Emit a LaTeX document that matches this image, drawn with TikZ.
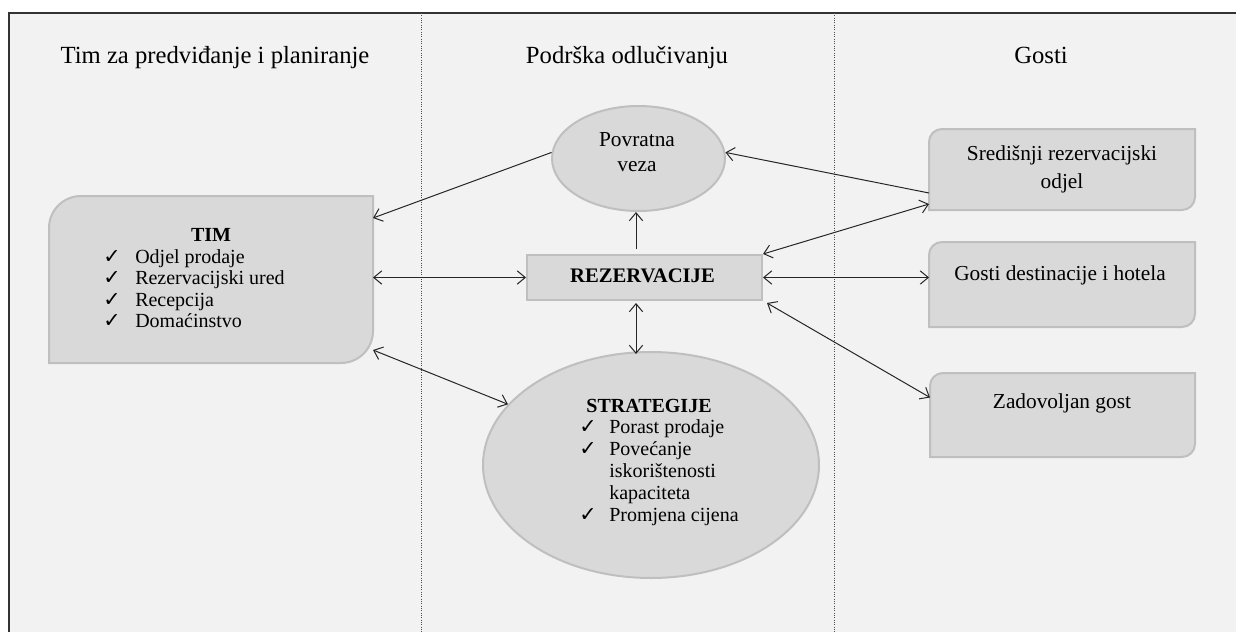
\documentclass[tikz,border=0pt]{standalone}
\usepackage{fontspec}
\setmainfont{Liberation Serif}
\newfontfamily\chkfont{DejaVu Sans}
\usetikzlibrary{arrows.meta,calc,shapes.geometric}
\definecolor{bgc}{HTML}{F2F2F2}
\definecolor{shfill}{HTML}{D9D9D9}
\definecolor{shdraw}{HTML}{BFBFBF}
\newcommand\chk[1]{\makebox[#1][l]{\chkfont\fontsize{15.5}{15.5}\selectfont ✓}}
% box with rounded top-left and bottom-right corners: x1 y1 x2 y2 r
\newcommand\cornerbox[5]{%
  \path[shp] ({#1+#5},#2) -- (#3,#2) -- (#3,{#4-#5})
    .. controls (#3,{#4-0.4477*#5}) and ({#3-0.4477*#5},#4) .. ({#3-#5},#4)
    -- (#1,#4) -- (#1,{#2+#5})
    .. controls (#1,{#2+0.4477*#5}) and ({#1+0.4477*#5},#2) .. ({#1+#5},#2) -- cycle;}
\begin{document}
\begin{tikzpicture}[x=0.75pt,y=-0.75pt,
  >={Straight Barb[length=6pt,width=10pt]},
  shp/.style={fill=shfill,draw=shdraw,line width=1.5pt},
  sizebox/.style 2 args={rectangle,draw=none,inner sep=0pt,outer sep=0pt,
    minimum width=#1*0.75pt,minimum height=#2*0.75pt},
  hdr/.style={inner sep=0pt,font=\fontsize{18.5}{22}\selectfont},
  txt/.style={inner sep=0pt,font=\fontsize{16}{19}\selectfont},
  itm/.style={inner sep=0pt,anchor=base west,font=\fontsize{15}{18}\selectfont},
  bld/.style={inner sep=0pt,anchor=base,font=\fontsize{15}{18}\selectfont\bfseries},
  arr/.style={draw=black!85,line width=0.75pt},
  sep/.style={draw=black!70,line width=0.75pt,densely dotted}]
\useasboundingbox (0,0) rectangle (1236,632);
\fill[white] (0,0) rectangle (1236,632);
\fill[bgc] (9,13) rectangle (1236,632);
\draw[black!80,line width=1.2pt] (9,632) -- (9,13) -- (1236,13);
\draw[sep] (421,13) -- (421,632);
\draw[sep] (834,13) -- (834,632);

% headers
\node[hdr,anchor=base] (h1) at (215,63) {Tim za predviđanje i planiranje};
\node[hdr,anchor=base] (h2) at (627,63) {Podrška odlučivanju};
\node[hdr,anchor=base] (h3) at (1041,63) {Gosti};

% shapes
\cornerbox{49}{196}{373}{363}{32}
\node[sizebox={324}{167}] (tim) at (211,279.5) {};
\cornerbox{929}{129}{1195}{210}{13}
\node[sizebox={266}{81}] (sred) at (1062,169.5) {};
\cornerbox{929}{242}{1195}{327}{13}
\node[sizebox={266}{85}] (gdh) at (1062,284.5) {};
\cornerbox{930}{373}{1195}{457}{13}
\node[sizebox={265}{84}] (zad) at (1062.5,415) {};
\node[shp,ellipse,inner sep=0pt,minimum width=173*0.75pt,minimum height=105*0.75pt] (pov) at (638.5,158.5) {};
\node[shp,rectangle,inner sep=0pt,minimum width=235*0.75pt,minimum height=45*0.75pt] (rez) at (644.5,277.5) {};
\node[shp,ellipse,inner sep=0pt,minimum width=336*0.75pt,minimum height=226*0.75pt] (strat) at (651,465) {};

% texts
\node[bld] (timt) at (211,241) {TIM};
\node[itm] (t1) at (103,263) {\chk{24pt}Odjel prodaje};
\node[itm] (t2) at (103,284.5) {\chk{24pt}Rezervacijski ured};
\node[itm] (t3) at (103,306) {\chk{24pt}Recepcija};
\node[itm] (t4) at (103,327.5) {\chk{24pt}Domaćinstvo};

\node[txt,anchor=base] (pv1) at (637,146) {Povratna};
\node[txt,anchor=base] (pv2) at (637,171) {veza};
\node[bld,font=\fontsize{15.5}{18}\selectfont\bfseries] (rezt) at (642.5,282) {REZERVACIJE};

\node[bld] (strt) at (649,412) {STRATEGIJE};
\node[itm] (s1) at (579,433) {\chk{22.5pt}Porast prodaje};
\node[itm] (s2) at (579,455) {\chk{22.5pt}Povećanje};
\node[itm] (s3) at (609,477.5) {iskorištenosti};
\node[itm] (s4) at (609,499.5) {kapaciteta};
\node[itm] (s5) at (579,521.5) {\chk{22.5pt}Promjena cijena};

\node[txt,anchor=base] (sr1) at (1062,160.7) {Središnji rezervacijski};
\node[txt,anchor=base] (sr2) at (1062,188) {odjel};
\node[txt,anchor=base] (gdt) at (1060,280) {Gosti destinacije i hotela};
\node[txt,anchor=base] (zdt) at (1062,408) {Zadovoljan gost};

% connectors
\coordinate (vx) at (636,0);
\draw[arr,->] (pov.176) -- ($(tim.east)+(0,-61.5)$);
\draw[arr,<->] (rez.west -| tim.east) -- (rez.west);
\draw[arr,<->] ($(tim.east)+(0,70.5)$) -- (strat.157.7);
\draw[arr,->] ($(rez.north -| vx)+(0,-5)$) -- (pov.south -| vx);
\draw[arr,<->] ($(rez.south -| vx)+(0,2)$) -- ($(strat.north -| vx)+(0,3)$);
\draw[arr,->] ($(sred.west)+(0,23.5)$) -- (pov.4);
\draw[arr,<->] (rez.north east) -- ($(sred.south west)+(0,-6)$);
\draw[arr,<->] (rez.east) -- (rez.east -| gdh.west);
\draw[arr,<->] ($(rez.south east)+(4,2)$) -- ($(zad.west)+(0,-17.5)$);
\end{tikzpicture}
\end{document}
